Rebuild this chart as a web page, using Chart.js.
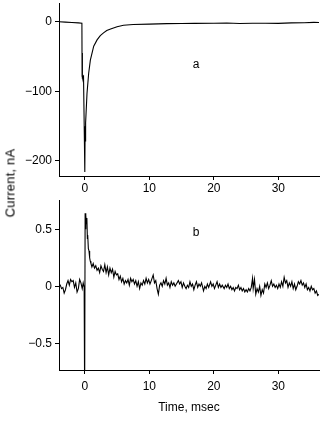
<!DOCTYPE html>
<html>
<head>
<meta charset="utf-8">
<script src="https://cdn.jsdelivr.net/npm/chart.js@4"></script>
<style>
  body { margin: 0; width: 327px; height: 423px; background: #fff; position: relative; overflow: hidden; }
  canvas { position: absolute; left: 0; }
  #chartA { top: 0; }
  #chartB { top: 197px; }
  .lbl { position: absolute; font: 12px "Liberation Sans", Arial, sans-serif; color: #000; transform: translate(-50%, -50%); white-space: nowrap; }
  #ytitle { left: 10px; top: 183px; font-size: 13px; letter-spacing: 0.2px; transform: translate(-50%, -50%) rotate(-90deg); }
</style>
</head>
<body>
<canvas id="chartA" width="327" height="200"></canvas>
<canvas id="chartB" width="327" height="226"></canvas>
<div class="lbl" style="left:196px;top:64px">a</div>
<div class="lbl" style="left:196px;top:232px">b</div>
<div class="lbl" id="ytitle">Current, nA</div>
<script>
// time in msec, current in nA
const timeTicks = [0, 10, 20, 30]
const currentTicksA = [-200, -100, 0]
const currentTicksB = [-0.5, 0, 0.5]

// panel a: large inward current
const traceA = [
  [-4, 0], [-3, -0.5], [-2, -1], [-1, -1.5], [-0.45, -2],
  [-0.42, -78], [-0.39, -45], [-0.36, -80], [-0.2, -78], [-0.05, -180],
  [0.0, -216], [0.05, -150], [0.1, -172], [0.15, -145], [0.34, -103],
  [0.6, -74], [0.86, -55], [1.38, -35], [1.9, -26], [2.4, -20],
  [2.9, -16], [3.4, -12.5], [4.0, -10.5], [5, -7], [6, -5],
  [7.5, -4], [10, -3.3], [12.7, -2.6], [15, -2.5], [17, -2.3],
  [20, -2.2], [22, -1.8], [24, -2.5], [26, -2], [28, -2],
  [30, -2.3], [32, -1.6], [34, -1.3], [35.5, -0.8], [36.3, -1]
]

// panel b: small outward current
const traceB = [
  [-4.0, 0.0], [-3.8, 0.01], [-3.6, -0.02], [-3.4, -0.01], [-3.2, -0.06], [-3.0, -0.03],
  [-2.8, 0.02], [-2.6, 0.05], [-2.4, 0.01], [-2.2, 0.06], [-2.0, 0.04], [-1.8, 0.05],
  [-1.6, -0.01], [-1.4, 0.03], [-1.2, -0.05], [-1.0, -0.02], [-0.8, 0.06], [-0.6, 0.03],
  [-0.4, -0.02], [-0.25, 0.03], [-0.1, -0.01], [-0.05, -0.95], [0.0, -0.95], [0.05, 0.64],
  [0.12, 0.5], [0.18, 0.62], [0.25, 0.55], [0.32, 0.6], [0.4, 0.42], [0.45, 0.45],
  [0.55, 0.33], [0.65, 0.31], [0.75, 0.25], [0.85, 0.22], [0.95, 0.2], [1.1, 0.17],
  [1.3, 0.2], [1.5, 0.16], [1.7, 0.18], [1.9, 0.14], [2.1, 0.16], [2.3, 0.12],
  [2.5, 0.18], [2.7, 0.15], [2.9, 0.13], [3.1, 0.19], [3.3, 0.12], [3.5, 0.17],
  [3.7, 0.1], [3.9, 0.16], [4.1, 0.12], [4.3, 0.15], [4.5, 0.08], [4.7, 0.13],
  [4.9, 0.1], [5.1, 0.11], [5.3, 0.06], [5.5, 0.09], [5.7, 0.04], [5.9, 0.07],
  [6.1, 0.02], [6.3, 0.05], [6.5, 0.03], [6.7, 0.06], [6.9, 0.01], [7.1, 0.07],
  [7.3, 0.04], [7.5, 0.06], [7.7, 0.02], [7.9, 0.05], [8.1, 0.0], [8.3, 0.04],
  [8.5, -0.02], [8.7, 0.03], [8.9, 0.01], [9.1, 0.05], [9.3, 0.02], [9.5, 0.07],
  [9.7, 0.03], [9.9, 0.06], [10.1, 0.02], [10.3, 0.05], [10.6, 0.1], [10.8, 0.03],
  [11.0, 0.05], [11.2, -0.02], [11.4, -0.07], [11.6, 0.01], [11.8, 0.03], [12.0, 0.0],
  [12.2, 0.05], [12.4, 0.02], [12.6, 0.07], [12.8, 0.01], [13.0, 0.03], [13.2, -0.01],
  [13.4, 0.04], [13.6, 0.01], [13.8, 0.03], [14.0, 0.0], [14.2, 0.02], [14.5, 0.05],
  [14.7, 0.02], [14.9, 0.04], [15.1, -0.01], [15.3, 0.03], [15.5, 0.0], [15.7, -0.02],
  [15.9, 0.01], [16.1, -0.01], [16.3, 0.04], [16.5, 0.0], [16.7, 0.02], [16.9, -0.03],
  [17.1, 0.01], [17.3, 0.04], [17.5, -0.01], [17.7, 0.02], [17.9, 0.0], [18.1, 0.03],
  [18.4, -0.04], [18.6, 0.0], [18.8, -0.02], [19.0, 0.02], [19.2, -0.01], [19.5, 0.04],
  [19.7, 0.0], [19.9, 0.02], [20.1, -0.02], [20.3, 0.01], [20.5, 0.04], [20.7, -0.01],
  [20.9, 0.02], [21.1, -0.01], [21.3, 0.01], [21.6, -0.02], [21.8, 0.01], [22.0, -0.01],
  [22.2, 0.02], [22.4, -0.02], [22.6, 0.0], [22.8, -0.03], [23.0, -0.01], [23.2, -0.04],
  [23.4, -0.01], [23.6, -0.02], [23.8, 0.01], [24.0, -0.03], [24.2, -0.01], [24.4, -0.04],
  [24.6, -0.02], [24.8, -0.05], [25.0, -0.03], [25.2, -0.05], [25.4, -0.02], [25.6, -0.04],
  [25.8, -0.01], [26.0, 0.07], [26.1, -0.02], [26.3, 0.06], [26.5, -0.07], [26.7, -0.02],
  [26.9, -0.05], [27.1, 0.0], [27.3, -0.08], [27.5, -0.03], [27.7, -0.06], [27.9, 0.02],
  [28.1, -0.01], [28.3, 0.03], [28.5, -0.02], [28.7, 0.01], [28.9, 0.05], [29.1, 0.0],
  [29.3, 0.02], [29.5, -0.01], [29.7, 0.01], [29.9, -0.02], [30.1, 0.02], [30.3, -0.01],
  [30.5, 0.04], [30.7, 0.0], [30.9, 0.08], [31.1, 0.03], [31.3, 0.05], [31.5, -0.01],
  [31.7, 0.03], [31.9, 0.0], [32.1, 0.04], [32.3, -0.02], [32.5, 0.02], [32.7, -0.03],
  [32.9, 0.0], [33.1, 0.04], [33.3, 0.02], [33.5, 0.05], [33.7, 0.01], [33.9, 0.03],
  [34.1, -0.01], [34.3, 0.02], [34.5, -0.03], [34.7, -0.01], [34.9, -0.04], [35.1, 0.0],
  [35.3, -0.03], [35.5, -0.02], [35.7, -0.06], [35.9, -0.04], [36.1, -0.08], [36.3, -0.07]
]

const FONT = { family: '"Liberation Sans", Arial, sans-serif', size: 12 }

function fmt(v) {
  return v < 0 ? '\u2212' + Math.abs(v) : String(v)
}

function axisStyle() {
  return {
    grid: { display: true, drawOnChartArea: false, drawTicks: true, tickLength: 4, color: '#000', lineWidth: 1 },
    border: { display: true, color: '#000', width: 1 }
  }
}

function noPad(s) {
  s.paddingTop = 0
  s.paddingBottom = 0
  s.paddingLeft = 0
  s.paddingRight = 0
}

function makeChart(node, trace, yTicks, yMin, yMax, xPad, xHeight, showTitle) {
  return new Chart(node, {
    type: 'line',
    data: {
      datasets: [
        {
          data: trace.map(p => ({ x: p[0], y: p[1] })),
          borderColor: '#000',
          borderWidth: 1.1,
          pointRadius: 0,
          tension: 0,
          fill: false
        }
      ]
    },
    options: {
      responsive: false,
      animation: false,
      devicePixelRatio: 1,
      layout: { padding: { top: 3, right: 8, left: 0, bottom: 0 } },
      plugins: { legend: { display: false }, tooltip: { enabled: false } },
      scales: {
        x: {
          type: 'linear',
          min: -4,
          max: 36.3,
          ...axisStyle(),
          afterBuildTicks: s => { s.ticks = timeTicks.map(v => ({ value: v })) },
          afterFit: s => { s.height = xHeight; noPad(s) },
          ticks: { color: '#000', font: FONT, padding: xPad, maxRotation: 0 },
          title: { display: showTitle, text: 'Time, msec', color: '#000', font: FONT, padding: { top: 0, bottom: 8 } }
        },
        y: {
          type: 'linear',
          min: yMin,
          max: yMax,
          ...axisStyle(),
          afterBuildTicks: s => { s.ticks = yTicks.map(v => ({ value: v })) },
          afterFit: s => { s.width = 59; noPad(s) },
          ticks: { color: '#000', font: FONT, padding: 3, callback: v => fmt(v) }
        }
      }
    }
  })
}

makeChart(document.getElementById('chartA'), traceA, currentTicksA, -221.6, 27, 1, 24, false)
makeChart(document.getElementById('chartB'), traceB, currentTicksB, -0.734, 0.757, 5, 53, true)
</script>
</body>
</html>
